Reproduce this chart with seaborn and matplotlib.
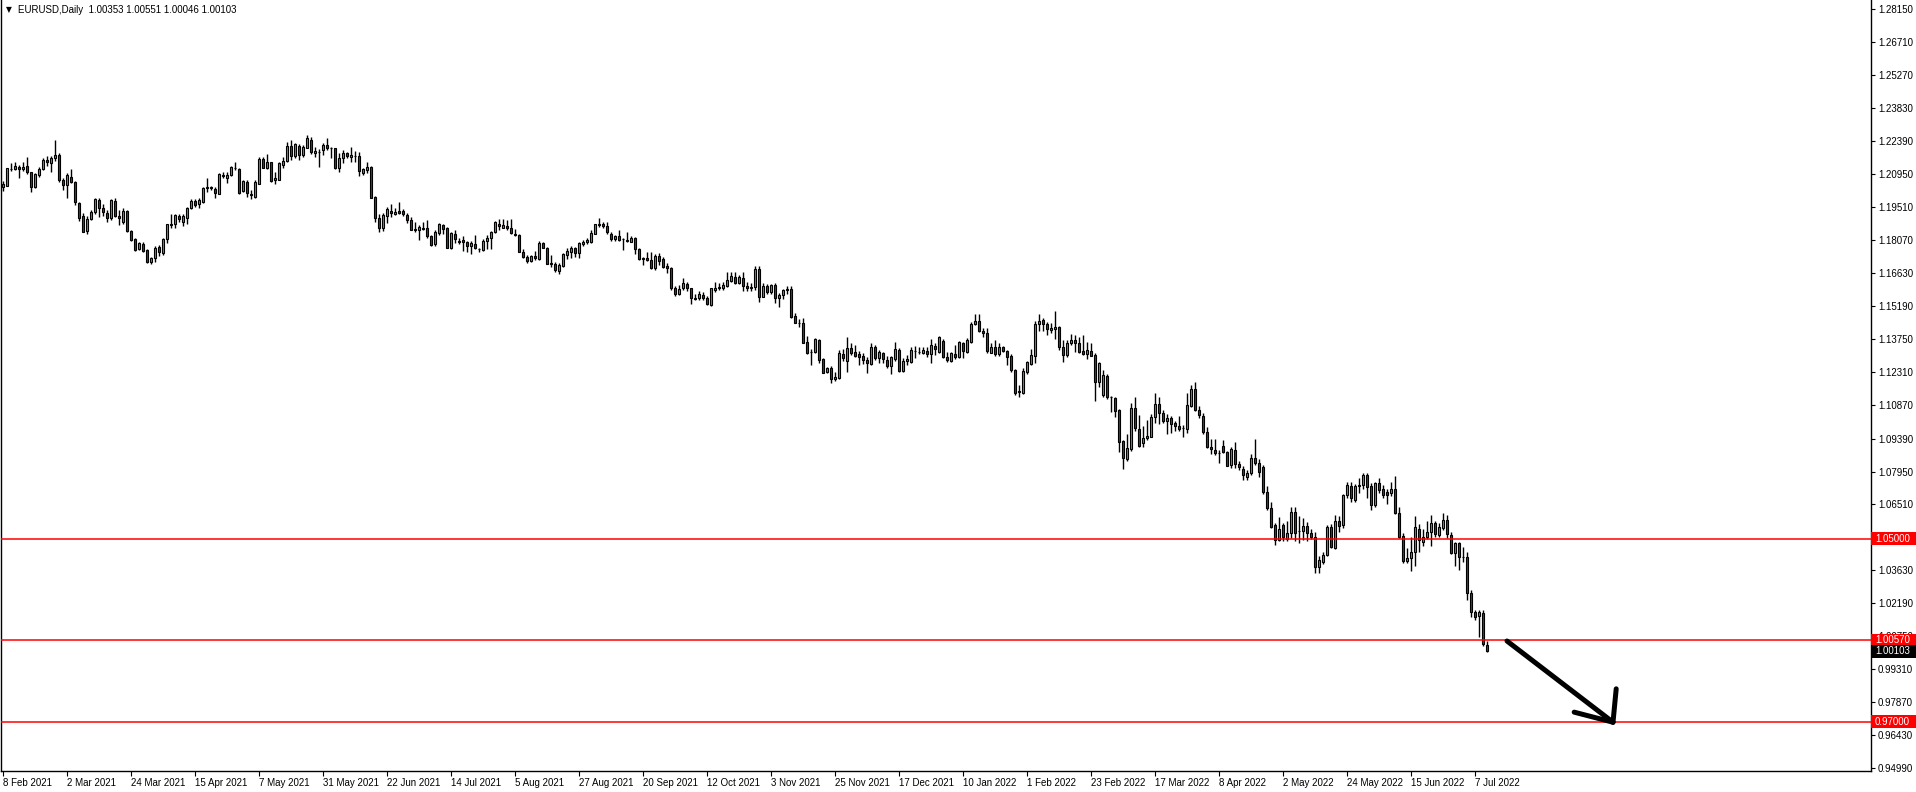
import numpy as np
import pandas as pd
import matplotlib
matplotlib.use("Agg")
import matplotlib.pyplot as plt
import matplotlib.transforms as mtransforms
from matplotlib.patches import Rectangle
import seaborn as sns

# ---------------- data (EURUSD daily, 8 Feb 2021 .. 12 Jul 2022) ----------------
opens = [
    1.2039, 1.2044, 1.2117, 1.2117, 1.2128, 1.2117, 1.2129, 1.2103, 1.2040, 1.2091,
    1.2117, 1.2155, 1.2144, 1.2164, 1.2179, 1.2069, 1.2047, 1.2084, 1.2062, 1.1967,
    1.1913, 1.1846, 1.1899, 1.1928, 1.1982, 1.1948, 1.1924, 1.1902, 1.1978, 1.1913,
    1.1884, 1.1934, 1.1846, 1.1811, 1.1768, 1.1791, 1.1764, 1.1712, 1.1727, 1.1777,
    1.1749, 1.1811, 1.1876, 1.1876, 1.1913, 1.1887, 1.1905, 1.1948, 1.1977, 1.1963,
    1.1972, 1.2036, 1.2036, 1.2030, 1.2010, 1.2088, 1.2080, 1.2091, 1.2120, 1.2117,
    1.2021, 1.2062, 1.2007, 1.1997, 1.2053, 1.2161, 1.2123, 1.2147, 1.2068, 1.2070,
    1.2135, 1.2153, 1.2217, 1.2172, 1.2220, 1.2179, 1.2211, 1.2245, 1.2186, 1.2192,
    1.2201, 1.2223, 1.2211, 1.2208, 1.2123, 1.2164, 1.2186, 1.2168, 1.2174, 1.2172,
    1.2098, 1.2114, 1.2124, 1.1995, 1.1902, 1.1858, 1.1913, 1.1934, 1.1921, 1.1934,
    1.1934, 1.1916, 1.1893, 1.1852, 1.1850, 1.1858, 1.1858, 1.1823, 1.1788, 1.1838,
    1.1873, 1.1858, 1.1771, 1.1832, 1.1801, 1.1806, 1.1797, 1.1780, 1.1788, 1.1766,
    1.1765, 1.1803, 1.1815, 1.1841, 1.1879, 1.1861, 1.1867, 1.1858, 1.1832, 1.1829,
    1.1753, 1.1734, 1.1715, 1.1735, 1.1724, 1.1792, 1.1773, 1.1705, 1.1703, 1.1671,
    1.1695, 1.1741, 1.1753, 1.1771, 1.1749, 1.1791, 1.1797, 1.1800, 1.1834, 1.1873,
    1.1875, 1.1866, 1.1832, 1.1811, 1.1823, 1.1811, 1.1808, 1.1800, 1.1814, 1.1767,
    1.1727, 1.1727, 1.1718, 1.1683, 1.1735, 1.1724, 1.1695, 1.1683, 1.1596, 1.1572,
    1.1596, 1.1613, 1.1596, 1.1552, 1.1552, 1.1567, 1.1552, 1.1523, 1.1587, 1.1597,
    1.1596, 1.1607, 1.1628, 1.1645, 1.1619, 1.1642, 1.1607, 1.1597, 1.1603, 1.1682,
    1.1558, 1.1607, 1.1580, 1.1612, 1.1555, 1.1567, 1.1587, 1.1593, 1.1475, 1.1446,
    1.1443, 1.1362, 1.1319, 1.1319, 1.1370, 1.1285, 1.1231, 1.1246, 1.1198, 1.1202,
    1.1309, 1.1279, 1.1337, 1.1317, 1.1309, 1.1300, 1.1282, 1.1265, 1.1341, 1.1290,
    1.1311, 1.1282, 1.1256, 1.1285, 1.1326, 1.1236, 1.1279, 1.1275, 1.1323, 1.1317,
    1.1311, 1.1323, 1.1309, 1.1344, 1.1319, 1.1364, 1.1294, 1.1279, 1.1309, 1.1294,
    1.1355, 1.1319, 1.1363, 1.1440, 1.1451, 1.1411, 1.1402, 1.1314, 1.1341, 1.1309,
    1.1338, 1.1320, 1.1300, 1.1239, 1.1144, 1.1140, 1.1231, 1.1265, 1.1300, 1.1440,
    1.1457, 1.1440, 1.1413, 1.1416, 1.1425, 1.1338, 1.1303, 1.1355, 1.1370, 1.1355,
    1.1323, 1.1309, 1.1323, 1.1304, 1.1188, 1.1131, 1.1212, 1.1122, 1.1116, 1.1064,
    1.0928, 1.0848, 1.0893, 1.1071, 1.0981, 1.0918, 1.0940, 1.0947, 1.1032, 1.1089,
    1.1049, 1.1017, 1.1029, 1.1006, 1.0994, 1.0984, 1.0979, 1.1081, 1.1154, 1.1064,
    1.1038, 1.0969, 1.0904, 1.0889, 1.0874, 1.0907, 1.0882, 1.0823, 1.0890, 1.0828,
    1.0804, 1.0772, 1.0787, 1.0854, 1.0831, 1.0813, 1.0707, 1.0634, 1.0561, 1.0496,
    1.0559, 1.0498, 1.0525, 1.0619, 1.0534, 1.0537, 1.0555, 1.0525, 1.0510, 1.0376,
    1.0399, 1.0430, 1.0551, 1.0459, 1.0580, 1.0561, 1.0692, 1.0732, 1.0670, 1.0732,
    1.0736, 1.0780, 1.0732, 1.0648, 1.0743, 1.0717, 1.0707, 1.0700, 1.0717, 1.0615,
    1.0515, 1.0405, 1.0415, 1.0444, 1.0545, 1.0485, 1.0510, 1.0532, 1.0568, 1.0518,
    1.0547, 1.0583, 1.0518, 1.0440, 1.0484, 1.0423, 1.0423, 1.0262, 1.0180, 1.0163,
    1.0178, 1.00353,
]

highs = [
    1.2065, 1.2123, 1.2142, 1.2147, 1.2135, 1.2147, 1.2170, 1.2106, 1.2098, 1.2128,
    1.2164, 1.2176, 1.2176, 1.2244, 1.2187, 1.2077, 1.2098, 1.2117, 1.2065, 1.1972,
    1.1924, 1.1913, 1.1938, 1.1992, 1.1989, 1.1966, 1.1938, 1.1986, 1.1992, 1.1938,
    1.1945, 1.1938, 1.1852, 1.1817, 1.1800, 1.1797, 1.1768, 1.1733, 1.1780, 1.1785,
    1.1814, 1.1878, 1.1919, 1.1922, 1.1919, 1.1919, 1.1951, 1.1986, 1.1986, 1.1989,
    1.2040, 1.2077, 1.2043, 1.2040, 1.2098, 1.2106, 1.2106, 1.2129, 1.2147, 1.2120,
    1.2071, 1.2069, 1.2024, 1.2069, 1.2170, 1.2171, 1.2181, 1.2149, 1.2103, 1.2147,
    1.2171, 1.2237, 1.2244, 1.2230, 1.2225, 1.2222, 1.2266, 1.2259, 1.2213, 1.2205,
    1.2230, 1.2251, 1.2213, 1.2211, 1.2186, 1.2200, 1.2193, 1.2215, 1.2196, 1.2193,
    1.2120, 1.2147, 1.2129, 1.2001, 1.1919, 1.1924, 1.1953, 1.1966, 1.1948, 1.1972,
    1.1943, 1.1924, 1.1908, 1.1884, 1.1873, 1.1884, 1.1893, 1.1829, 1.1849, 1.1881,
    1.1878, 1.1864, 1.1840, 1.1852, 1.1814, 1.1823, 1.1803, 1.1803, 1.1829, 1.1774,
    1.1811, 1.1827, 1.1846, 1.1890, 1.1900, 1.1899, 1.1894, 1.1899, 1.1855, 1.1832,
    1.1768, 1.1741, 1.1741, 1.1759, 1.1803, 1.1800, 1.1778, 1.1741, 1.1712, 1.1705,
    1.1749, 1.1771, 1.1779, 1.1778, 1.1797, 1.1806, 1.1817, 1.1849, 1.1878, 1.1905,
    1.1887, 1.1884, 1.1840, 1.1829, 1.1851, 1.1814, 1.1843, 1.1826, 1.1820, 1.1773,
    1.1734, 1.1753, 1.1753, 1.1747, 1.1749, 1.1733, 1.1705, 1.1690, 1.1607, 1.1610,
    1.1639, 1.1625, 1.1599, 1.1570, 1.1584, 1.1578, 1.1564, 1.1599, 1.1625, 1.1618,
    1.1625, 1.1666, 1.1666, 1.1666, 1.1654, 1.1666, 1.1625, 1.1620, 1.1692, 1.1692,
    1.1617, 1.1614, 1.1616, 1.1617, 1.1575, 1.1592, 1.1608, 1.1608, 1.1486, 1.1460,
    1.1464, 1.1387, 1.1329, 1.1377, 1.1373, 1.1290, 1.1253, 1.1256, 1.1231, 1.1326,
    1.1329, 1.1384, 1.1355, 1.1348, 1.1323, 1.1311, 1.1297, 1.1355, 1.1348, 1.1326,
    1.1319, 1.1300, 1.1300, 1.1362, 1.1333, 1.1290, 1.1304, 1.1341, 1.1344, 1.1341,
    1.1341, 1.1338, 1.1373, 1.1355, 1.1387, 1.1373, 1.1319, 1.1319, 1.1348, 1.1367,
    1.1362, 1.1377, 1.1450, 1.1483, 1.1483, 1.1421, 1.1421, 1.1358, 1.1370, 1.1355,
    1.1344, 1.1326, 1.1309, 1.1242, 1.1173, 1.1246, 1.1279, 1.1329, 1.1454, 1.1483,
    1.1464, 1.1448, 1.1446, 1.1498, 1.1431, 1.1370, 1.1370, 1.1396, 1.1392, 1.1381,
    1.1392, 1.1362, 1.1358, 1.1311, 1.1275, 1.1237, 1.1221, 1.1125, 1.1122, 1.1067,
    1.0933, 1.0959, 1.1093, 1.1119, 1.1042, 1.0994, 1.1020, 1.1046, 1.1137, 1.1119,
    1.1064, 1.1046, 1.1038, 1.1017, 1.1038, 1.0998, 1.1137, 1.1173, 1.1187, 1.1081,
    1.1052, 1.0991, 1.0936, 1.0936, 1.0889, 1.0933, 1.0886, 1.0901, 1.0923, 1.0840,
    1.0820, 1.0800, 1.0870, 1.0935, 1.0850, 1.0825, 1.0730, 1.0660, 1.0570, 1.0595,
    1.0570, 1.0580, 1.0641, 1.0640, 1.0600, 1.0590, 1.0575, 1.0545, 1.0530, 1.0425,
    1.0445, 1.0563, 1.0565, 1.0605, 1.0600, 1.0697, 1.0748, 1.0747, 1.0740, 1.0765,
    1.0787, 1.0790, 1.0745, 1.0750, 1.0765, 1.0735, 1.0720, 1.0750, 1.0775, 1.0640,
    1.0525, 1.0460, 1.0507, 1.0600, 1.0565, 1.0545, 1.0580, 1.0606, 1.0580, 1.0572,
    1.0615, 1.0605, 1.0530, 1.0487, 1.0486, 1.0465, 1.0445, 1.0275, 1.0188, 1.0188,
    1.0190, 1.00551,
]

lows = [
    1.2021, 1.2043, 1.2109, 1.2113, 1.2080, 1.2109, 1.2097, 1.2018, 1.2033, 1.2084,
    1.2111, 1.2132, 1.2106, 1.2153, 1.2059, 1.2024, 1.1989, 1.2055, 1.1960, 1.1890,
    1.1840, 1.1832, 1.1896, 1.1919, 1.1909, 1.1913, 1.1887, 1.1894, 1.1908, 1.1873,
    1.1878, 1.1840, 1.1803, 1.1759, 1.1762, 1.1753, 1.1706, 1.1701, 1.1709, 1.1736,
    1.1742, 1.1793, 1.1861, 1.1858, 1.1887, 1.1870, 1.1878, 1.1943, 1.1951, 1.1948,
    1.1969, 1.2018, 1.2027, 1.1992, 1.2007, 1.2077, 1.2055, 1.2088, 1.2113, 1.2010,
    1.2018, 1.1996, 1.1987, 1.1992, 1.2050, 1.2120, 1.2117, 1.2062, 1.2050, 1.2068,
    1.2123, 1.2149, 1.2158, 1.2164, 1.2158, 1.2171, 1.2208, 1.2181, 1.2171, 1.2128,
    1.2179, 1.2200, 1.2164, 1.2117, 1.2103, 1.2142, 1.2164, 1.2147, 1.2147, 1.2088,
    1.2091, 1.2098, 1.1989, 1.1887, 1.1843, 1.1846, 1.1881, 1.1909, 1.1916, 1.1919,
    1.1913, 1.1881, 1.1849, 1.1843, 1.1806, 1.1849, 1.1814, 1.1780, 1.1782, 1.1829,
    1.1832, 1.1771, 1.1768, 1.1793, 1.1788, 1.1759, 1.1756, 1.1747, 1.1768, 1.1756,
    1.1760, 1.1768, 1.1768, 1.1838, 1.1849, 1.1858, 1.1851, 1.1832, 1.1826, 1.1753,
    1.1730, 1.1705, 1.1709, 1.1721, 1.1721, 1.1771, 1.1700, 1.1690, 1.1669, 1.1660,
    1.1690, 1.1724, 1.1727, 1.1734, 1.1727, 1.1779, 1.1791, 1.1794, 1.1832, 1.1864,
    1.1861, 1.1835, 1.1803, 1.1803, 1.1803, 1.1765, 1.1797, 1.1797, 1.1747, 1.1721,
    1.1698, 1.1715, 1.1680, 1.1677, 1.1698, 1.1683, 1.1661, 1.1590, 1.1561, 1.1567,
    1.1588, 1.1584, 1.1526, 1.1546, 1.1546, 1.1546, 1.1523, 1.1520, 1.1581, 1.1588,
    1.1588, 1.1603, 1.1625, 1.1616, 1.1613, 1.1584, 1.1586, 1.1585, 1.1590, 1.1535,
    1.1556, 1.1570, 1.1570, 1.1530, 1.1513, 1.1550, 1.1570, 1.1468, 1.1443, 1.1428,
    1.1355, 1.1309, 1.1260, 1.1311, 1.1268, 1.1224, 1.1227, 1.1183, 1.1192, 1.1198,
    1.1279, 1.1231, 1.1304, 1.1294, 1.1260, 1.1265, 1.1224, 1.1259, 1.1282, 1.1268,
    1.1268, 1.1246, 1.1221, 1.1279, 1.1231, 1.1231, 1.1260, 1.1271, 1.1290, 1.1309,
    1.1309, 1.1294, 1.1271, 1.1304, 1.1314, 1.1290, 1.1275, 1.1275, 1.1285, 1.1290,
    1.1290, 1.1314, 1.1358, 1.1434, 1.1405, 1.1384, 1.1311, 1.1311, 1.1300, 1.1300,
    1.1319, 1.1260, 1.1231, 1.1131, 1.1122, 1.1134, 1.1221, 1.1260, 1.1268, 1.1411,
    1.1411, 1.1393, 1.1402, 1.1373, 1.1326, 1.1275, 1.1297, 1.1348, 1.1319, 1.1311,
    1.1304, 1.1285, 1.1300, 1.1105, 1.1163, 1.1122, 1.1113, 1.1057, 1.1032, 1.0882,
    1.0804, 1.0842, 1.0886, 1.0973, 1.0901, 1.0901, 1.0933, 1.0944, 1.1008, 1.1003,
    1.1008, 1.0959, 1.0962, 1.0973, 1.0973, 1.0944, 1.0965, 1.1075, 1.1058, 1.1027,
    1.0959, 1.0898, 1.0871, 1.0867, 1.0831, 1.0874, 1.0819, 1.0809, 1.0810, 1.0800,
    1.0758, 1.0758, 1.0780, 1.0825, 1.0770, 1.0697, 1.0625, 1.0550, 1.0472, 1.0492,
    1.0490, 1.0492, 1.0505, 1.0490, 1.0484, 1.0495, 1.0490, 1.0500, 1.0352, 1.0350,
    1.0390, 1.0425, 1.0460, 1.0455, 1.0530, 1.0550, 1.0680, 1.0660, 1.0663, 1.0700,
    1.0720, 1.0680, 1.0628, 1.0640, 1.0700, 1.0680, 1.0655, 1.0690, 1.0610, 1.0505,
    1.0397, 1.0397, 1.0360, 1.0382, 1.0445, 1.0470, 1.0500, 1.0470, 1.0510, 1.0510,
    1.0540, 1.0505, 1.0435, 1.0382, 1.0365, 1.0400, 1.0235, 1.0160, 1.0145, 1.0073,
    1.0033, 1.00046,
]

closes = [
    1.2050, 1.2120, 1.2119, 1.2131, 1.2117, 1.2128, 1.2106, 1.2040, 1.2094, 1.2117,
    1.2155, 1.2147, 1.2164, 1.2179, 1.2069, 1.2047, 1.2091, 1.2062, 1.1972, 1.1905,
    1.1843, 1.1899, 1.1928, 1.1986, 1.1948, 1.1928, 1.1902, 1.1980, 1.1913, 1.1902,
    1.1934, 1.1846, 1.1808, 1.1765, 1.1794, 1.1759, 1.1712, 1.1727, 1.1774, 1.1753,
    1.1811, 1.1876, 1.1874, 1.1916, 1.1899, 1.1913, 1.1948, 1.1977, 1.1960, 1.1982,
    1.2036, 1.2037, 1.2037, 1.2013, 1.2094, 1.2089, 1.2091, 1.2126, 1.2121, 1.2014,
    1.2065, 1.2011, 1.2004, 1.2062, 1.2161, 1.2123, 1.2147, 1.2065, 1.2077, 1.2143,
    1.2153, 1.2220, 1.2172, 1.2226, 1.2179, 1.2215, 1.2252, 1.2190, 1.2195, 1.2193,
    1.2223, 1.2211, 1.2208, 1.2123, 1.2164, 1.2186, 1.2172, 1.2179, 1.2172, 1.2109,
    1.2117, 1.2126, 1.1992, 1.1905, 1.1861, 1.1916, 1.1942, 1.1924, 1.1928, 1.1925,
    1.1922, 1.1893, 1.1852, 1.1853, 1.1864, 1.1857, 1.1823, 1.1785, 1.1843, 1.1876,
    1.1855, 1.1774, 1.1836, 1.1811, 1.1799, 1.1797, 1.1780, 1.1794, 1.1771, 1.1766,
    1.1803, 1.1815, 1.1841, 1.1884, 1.1870, 1.1873, 1.1858, 1.1836, 1.1831, 1.1756,
    1.1734, 1.1715, 1.1735, 1.1727, 1.1792, 1.1773, 1.1703, 1.1704, 1.1674, 1.1698,
    1.1744, 1.1759, 1.1771, 1.1749, 1.1792, 1.1800, 1.1807, 1.1836, 1.1875, 1.1875,
    1.1866, 1.1840, 1.1811, 1.1823, 1.1808, 1.1811, 1.1802, 1.1817, 1.1767, 1.1724,
    1.1725, 1.1718, 1.1686, 1.1735, 1.1715, 1.1690, 1.1683, 1.1596, 1.1572, 1.1593,
    1.1617, 1.1596, 1.1552, 1.1550, 1.1570, 1.1552, 1.1528, 1.1596, 1.1598, 1.1600,
    1.1610, 1.1630, 1.1648, 1.1619, 1.1645, 1.1607, 1.1597, 1.1603, 1.1682, 1.1558,
    1.1607, 1.1580, 1.1612, 1.1555, 1.1567, 1.1587, 1.1593, 1.1472, 1.1446, 1.1445,
    1.1358, 1.1314, 1.1319, 1.1373, 1.1282, 1.1227, 1.1246, 1.1198, 1.1207, 1.1311,
    1.1290, 1.1337, 1.1314, 1.1300, 1.1297, 1.1282, 1.1268, 1.1341, 1.1290, 1.1319,
    1.1285, 1.1256, 1.1294, 1.1329, 1.1236, 1.1279, 1.1285, 1.1326, 1.1323, 1.1317,
    1.1326, 1.1309, 1.1348, 1.1329, 1.1381, 1.1297, 1.1282, 1.1311, 1.1297, 1.1361,
    1.1323, 1.1370, 1.1440, 1.1451, 1.1411, 1.1402, 1.1323, 1.1341, 1.1309, 1.1341,
    1.1323, 1.1297, 1.1239, 1.1140, 1.1145, 1.1233, 1.1274, 1.1304, 1.1440, 1.1451,
    1.1440, 1.1416, 1.1422, 1.1425, 1.1341, 1.1303, 1.1358, 1.1370, 1.1358, 1.1319,
    1.1309, 1.1326, 1.1300, 1.1188, 1.1271, 1.1216, 1.1122, 1.1119, 1.1061, 1.0925,
    1.0852, 1.0896, 1.1071, 1.0987, 1.0908, 1.0941, 1.0950, 1.1032, 1.1089, 1.1049,
    1.1017, 1.1029, 1.1003, 1.0994, 1.0979, 1.0983, 1.1084, 1.1154, 1.1064, 1.1043,
    1.0969, 1.0904, 1.0895, 1.0877, 1.0874, 1.0882, 1.0820, 1.0892, 1.0826, 1.0816,
    1.0778, 1.0787, 1.0854, 1.0831, 1.0794, 1.0707, 1.0634, 1.0554, 1.0496, 1.0542,
    1.0507, 1.0525, 1.0619, 1.0525, 1.0537, 1.0555, 1.0525, 1.0510, 1.0376, 1.0408,
    1.0430, 1.0551, 1.0463, 1.0580, 1.0557, 1.0692, 1.0736, 1.0678, 1.0732, 1.0737,
    1.0780, 1.0729, 1.0648, 1.0743, 1.0714, 1.0694, 1.0692, 1.0717, 1.0615, 1.0510,
    1.0405, 1.0415, 1.0444, 1.0551, 1.0497, 1.0510, 1.0532, 1.0568, 1.0520, 1.0554,
    1.0583, 1.0520, 1.0440, 1.0481, 1.0423, 1.0420, 1.0262, 1.0180, 1.0160, 1.0182,
    1.0041, 1.00103,
]

date_labels = [
    "8 Feb 2021", "2 Mar 2021", "24 Mar 2021", "15 Apr 2021", "7 May 2021",
    "31 May 2021", "22 Jun 2021", "14 Jul 2021", "5 Aug 2021", "27 Aug 2021",
    "20 Sep 2021", "12 Oct 2021", "3 Nov 2021", "25 Nov 2021", "17 Dec 2021",
    "10 Jan 2022", "1 Feb 2022", "23 Feb 2022", "17 Mar 2022", "8 Apr 2022",
    "2 May 2022", "24 May 2022", "15 Jun 2022", "7 Jul 2022",
]
date_label_bars = [0, 16, 32, 48, 64, 80, 96, 112, 128, 144, 160, 176,
                   192, 208, 224, 240, 256, 272, 288, 304, 320, 336, 352, 368]

price_tick_labels = [
    "1.28150", "1.26710", "1.25270", "1.23830", "1.22390", "1.20950",
    "1.19510", "1.18070", "1.16630", "1.15190", "1.13750", "1.12310",
    "1.10870", "1.09390", "1.07950", "1.06510", "1.05070", "1.03630",
    "1.02190", "1.00750", "0.99310", "0.97870", "0.96430", "0.94990",
]

level_values = [1.05, 1.0057, 0.97]
level_labels = ["1.05000", "1.00570", "0.97000"]
last_price = 1.00103
last_price_label = "1.00103"
symbol_title = "EURUSD,Daily"
title_ohlc = "1.00353 1.00551 1.00046 1.00103"

# hand-drawn arrow (bar index, price)
arrow_start = (376.0, 1.0054)
arrow_tip = (402.5, 0.9699)
arrow_head_left = (392.8, 0.9743)
arrow_head_up = (403.3, 0.9845)

# ---------------- figure ----------------
sns.set_theme(style="white")
plt.rcParams["font.family"] = ["Liberation Sans", "DejaVu Sans"]

W, H = 1916, 792
fig = plt.figure(figsize=(W / 100, H / 100), dpi=100, facecolor="white")
ax = fig.add_axes([1 / W, 21 / H, 1870 / W, 771 / H])
ax.set_facecolor("white")

df = pd.DataFrame({"o": opens, "h": highs, "l": lows, "c": closes})
df["x"] = np.arange(len(df))
df["bottom"] = df[["o", "c"]].min(axis=1)
df["height"] = (df["c"] - df["o"]).abs()
up = df["c"] >= df["o"]

GREEN = "#2DBE2D"
RED = "#E00000"

ax.vlines(df["x"], df["l"], df["h"], color="black", lw=1.0, zorder=2)
ax.bar(df.loc[up, "x"], df.loc[up, "height"], bottom=df.loc[up, "bottom"],
       width=0.62, color=GREEN, edgecolor="black", linewidth=0.8, zorder=3)
ax.bar(df.loc[~up, "x"], df.loc[~up, "height"], bottom=df.loc[~up, "bottom"],
       width=0.62, color=RED, edgecolor="black", linewidth=0.8, zorder=3)

# horizontal levels
for v in level_values:
    ax.axhline(v, color="#FF0000", lw=1.1, zorder=4)

# arrow drawing
for p in (arrow_start, arrow_head_left, arrow_head_up):
    ax.plot([p[0], arrow_tip[0]], [p[1], arrow_tip[1]], color="black", lw=3.6,
            solid_capstyle="round", zorder=5)

ax.set_xlim(-0.5, 467.0)
ax.set_ylim(0.94858, 1.28561)

# spines
for s in ("left", "right", "bottom"):
    ax.spines[s].set_visible(True)
    ax.spines[s].set_color("black")
    ax.spines[s].set_linewidth(1.0)
ax.spines["top"].set_visible(False)

# price axis on the right
ax.yaxis.tick_right()
ax.set_yticks([float(s) for s in price_tick_labels])
ax.set_yticklabels(price_tick_labels)
ax.tick_params(axis="y", which="both", direction="out", length=3, width=0.8,
               labelsize=7, pad=2, colors="black", left=False, right=True)

# date axis
ax.set_xticks(date_label_bars)
ax.set_xticklabels(date_labels)
for lbl in ax.get_xticklabels():
    lbl.set_horizontalalignment("left")
ax.tick_params(axis="x", which="both", direction="out", length=3.5, width=0.8,
               labelsize=7, pad=1.5, colors="black", bottom=True)
ax.grid(False)

# price tag boxes on the right axis
blend = mtransforms.blended_transform_factory(ax.transAxes, ax.transData)
box_w = 45 / 1870
box_h = 13 / 2287.5
for v, txt in zip(level_values, level_labels):
    ax.add_patch(Rectangle((1.0, v - box_h / 2), box_w, box_h, transform=blend,
                           facecolor="#FF0000", edgecolor="none", clip_on=False, zorder=10))
    ax.text(1.0 + 4 / 1870, v, txt, transform=blend, color="white", fontsize=7,
            va="center", ha="left", clip_on=False, zorder=11)
ax.add_patch(Rectangle((1.0, last_price - box_h / 2), box_w, box_h, transform=blend,
                       facecolor="black", edgecolor="none", clip_on=False, zorder=10))
ax.text(1.0 + 4 / 1870, last_price, last_price_label, transform=blend, color="white",
        fontsize=7, va="center", ha="left", clip_on=False, zorder=11)

# title line
fig.text(6 / W, 1 - 10 / H, "\u25BC", fontsize=5.5, va="center", ha="left",
         family=["DejaVu Sans"], color="black")
fig.text(18 / W, 1 - 10 / H, symbol_title + "  " + title_ohlc, fontsize=7,
         va="center", ha="left", color="black")

fig.savefig("out.png", dpi=100, facecolor="white")
